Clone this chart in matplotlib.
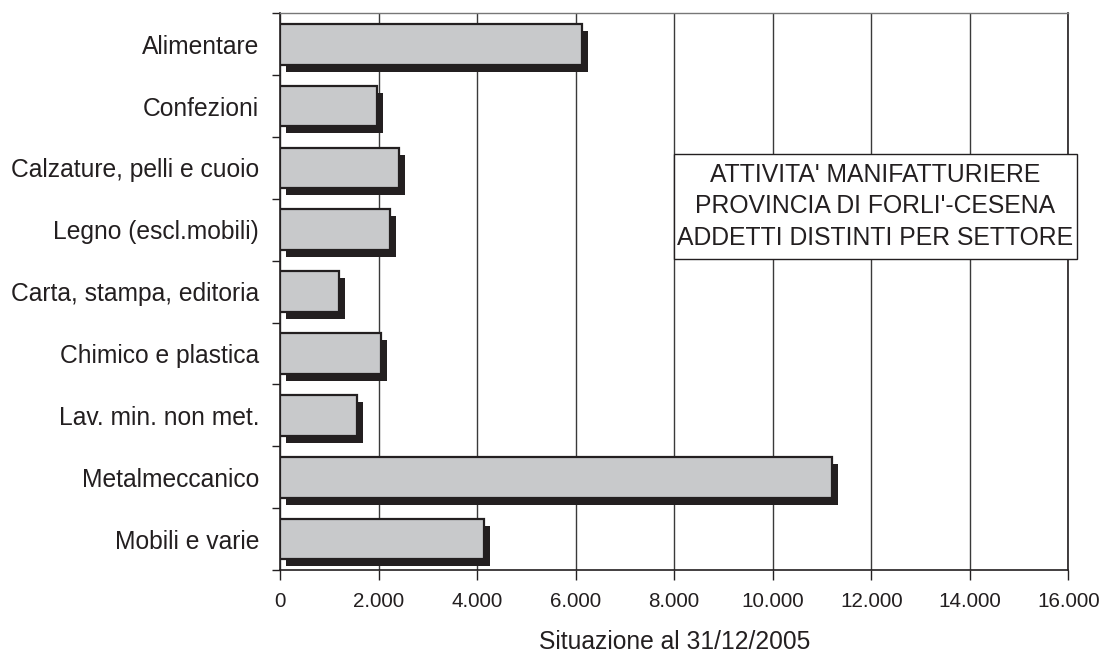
import matplotlib
matplotlib.use("Agg")
import matplotlib.pyplot as plt
import matplotlib.patches as mpatches
import matplotlib.transforms as mtransforms
from matplotlib.ticker import FuncFormatter
import numpy as np

plt.rcParams['font.family'] = ['Liberation Sans', 'DejaVu Sans']

categories = ["Alimentare", "Confezioni", "Calzature, pelli e cuoio", "Legno (escl.mobili)",
              "Carta, stampa, editoria", "Chimico e plastica", "Lav. min. non met.",
              "Metalmeccanico", "Mobili e varie"]
values = [6130, 1960, 2420, 2230, 1200, 2050, 1570, 11200, 4150]
x_ticks = [0, 2000, 4000, 6000, 8000, 10000, 12000, 14000, 16000]
title_lines = ["ATTIVITA' MANIFATTURIERE", "PROVINCIA DI FORLI'-CESENA", "ADDETTI DISTINTI PER SETTORE"]
xlabel = "Situazione al 31/12/2005"

DARK = "#231f20"
W, H = 1105, 652
fig = plt.figure(figsize=(W / 100, H / 100), dpi=100)
ax = fig.add_axes([280 / W, 1 - 570 / H, (1068.3 - 280) / W, (570 - 13.3) / H])

y = np.arange(len(categories))
bar_h = 0.66
shadow_tr = ax.transData + mtransforms.ScaledTranslation(6 / 100, -7 / 100, fig.dpi_scale_trans)
ax.barh(y, values, height=bar_h, color=DARK, edgecolor=DARK, linewidth=0, transform=shadow_tr, zorder=3)
ax.barh(y, values, height=bar_h, color="#c8c9cb", edgecolor=DARK, linewidth=1.6, zorder=4)

ax.set_xlim(0, 16000)
ax.set_ylim(len(categories) - 0.5, -0.5)
ax.set_xticks(x_ticks)
ax.xaxis.set_major_formatter(FuncFormatter(lambda v, p: f"{int(v):,}".replace(",", ".")))
ax.tick_params(axis='x', direction='out', length=7, width=1, color=DARK, labelsize=14.9,
               labelcolor=DARK, pad=8.5)

ax.set_yticks(np.arange(len(categories) + 1) - 0.5)
ax.set_yticklabels([])
ax.set_yticks(y, minor=True)
ax.set_yticklabels(categories, minor=True)
ax.tick_params(axis='y', which='major', direction='out', length=6, width=1, color=DARK)
ax.tick_params(axis='y', which='minor', length=0, labelsize=17.7, labelcolor=DARK, pad=15)

ax.grid(axis='x', color="#3a3a3a", linewidth=1.0, zorder=0)
ax.set_axisbelow(True)
for s in ['left', 'bottom', 'right']:
    ax.spines[s].set_color(DARK)
    ax.spines[s].set_linewidth(1.2)
ax.spines['top'].set_color("#777777")
ax.spines['top'].set_linewidth(1.0)

ax.set_xlabel(xlabel, fontsize=17.7, color=DARK, labelpad=14)

# Title box
bx0, bx1, by0, by1 = 674, 1076.7, 154, 259
rect = mpatches.Rectangle((bx0 / W, 1 - by1 / H), (bx1 - bx0) / W, (by1 - by0) / H,
                          transform=fig.transFigure, facecolor="white", edgecolor=DARK,
                          linewidth=1.0, zorder=10)
fig.patches.append(rect)
baselines = [181.7, 213.0, 245.0]
for line, b in zip(title_lines, baselines):
    fig.text((bx0 + bx1) / 2 / W, 1 - b / H, line, ha='center', va='baseline',
             fontsize=17.8, color=DARK, zorder=11)

fig.savefig("out.png", dpi=100)
